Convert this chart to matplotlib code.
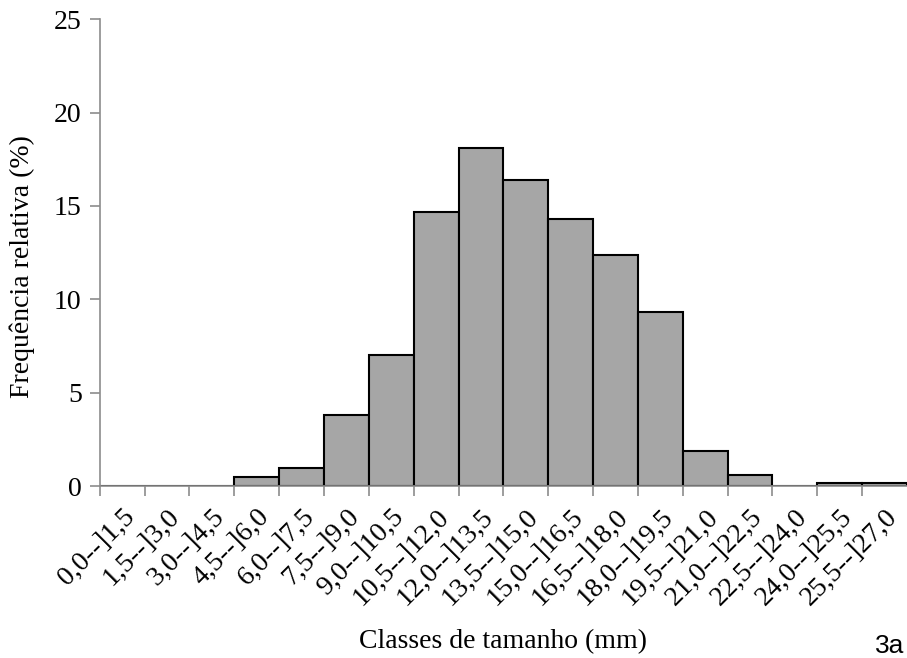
import matplotlib.pyplot as plt
import numpy as np

classes = ["0,0--]1,5", "1,5--]3,0", "3,0--]4,5", "4,5--]6,0", "6,0--]7,5",
           "7,5--]9,0", "9,0--]10,5", "10,5--]12,0", "12,0--]13,5", "13,5--]15,0",
           "15,0--]16,5", "16,5--]18,0", "18,0--]19,5", "19,5--]21,0", "21,0--]22,5",
           "22,5--]24,0", "24,0--]25,5", "25,5--]27,0"]
freq = [0, 0, 0, 0.5, 1.0, 3.8, 7.0, 14.7, 18.1, 16.4, 14.3, 12.4, 9.3, 1.9, 0.6, 0, 0.15, 0.15]

plt.rcParams['font.family'] = ['Liberation Serif', 'DejaVu Serif']

fig = plt.figure(figsize=(9.07, 6.58), dpi=100)
ax = fig.add_axes([0.110, 0.261, 0.890, 0.710])

x = np.arange(len(classes))
ax.bar(x + 0.5, freq, width=1.0, color='#a6a6a6', edgecolor='black', linewidth=1.5)

ax.set_xlim(0, len(classes))
ax.set_ylim(0, 25)
ax.set_yticks([0, 5, 10, 15, 20, 25])
ax.set_xticks(x, minor=False)
ax.set_xticklabels([])
ax.set_xticks(x + 0.5, minor=True)
ax.set_xticklabels(classes, minor=True, rotation=45, ha='right', rotation_mode='anchor', fontsize=20)
ax.tick_params(axis='x', which='minor', length=0, pad=13)
ax.tick_params(axis='x', which='major', length=7, width=1.2, color='#8c8c8c', direction='out')
ax.tick_params(axis='y', length=7, width=1.2, color='#8c8c8c', labelsize=20, pad=6)

for s in ['top', 'right']:
    ax.spines[s].set_visible(False)
for s in ['left', 'bottom']:
    ax.spines[s].set_color('#8c8c8c')
    ax.spines[s].set_linewidth(1.2)

ax.set_ylabel("Frequência relativa (%)", fontsize=20)
ax.yaxis.set_label_coords(-0.080, 0.47)
ax.set_xlabel("Classes de tamanho (mm)", fontsize=20)
ax.xaxis.set_label_coords(0.5, -0.305)

fig.text(0.997, 0.008, "3a", fontsize=19, family='Liberation Sans', ha='right', va='baseline')

fig.savefig("out.png", dpi=100)
